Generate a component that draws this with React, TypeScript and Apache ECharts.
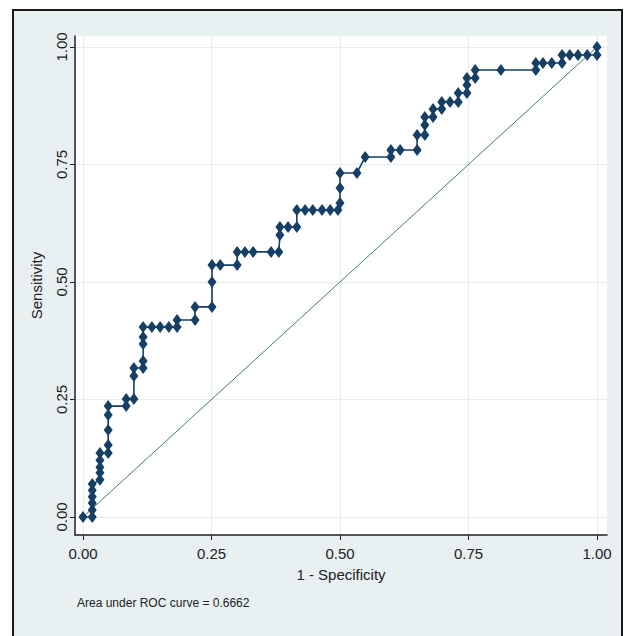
import React, { useEffect, useRef } from "react";
import * as echarts from "echarts";

// 1 - Specificity and Sensitivity for each cut point of the ROC curve
const fpr = [
  0, 0.018, 0.018, 0.018, 0.018, 0.018, 0.018, 0.033, 0.033, 0.033, 0.033, 0.033,
  0.049, 0.049, 0.049, 0.049, 0.049, 0.084, 0.084, 0.099, 0.099, 0.099,
  0.117, 0.117, 0.117, 0.117, 0.117, 0.134, 0.150, 0.167, 0.183, 0.183,
  0.218, 0.218, 0.251, 0.251, 0.251, 0.267, 0.300, 0.300, 0.315, 0.331, 0.366, 0.381,
  0.383, 0.383, 0.399, 0.416, 0.416, 0.432, 0.447, 0.465, 0.481, 0.496,
  0.500, 0.500, 0.500, 0.533, 0.549, 0.599, 0.599, 0.617, 0.650, 0.650,
  0.665, 0.665, 0.665, 0.681, 0.681, 0.698, 0.698, 0.714, 0.730, 0.730,
  0.747, 0.747, 0.747, 0.763, 0.763, 0.813, 0.881, 0.881, 0.895, 0.912, 0.932,
  0.932, 0.947, 0.963, 0.981, 1.0, 1.0,
];
const sensitivity = [
  0, 0, 0.015, 0.030, 0.043, 0.057, 0.070, 0.079, 0.094, 0.106, 0.121, 0.136,
  0.136, 0.153, 0.185, 0.217, 0.236, 0.236, 0.251, 0.251, 0.300, 0.317,
  0.317, 0.332, 0.368, 0.383, 0.404, 0.404, 0.404, 0.404, 0.404, 0.419,
  0.419, 0.447, 0.447, 0.500, 0.536, 0.536, 0.536, 0.564, 0.564, 0.564, 0.564, 0.564,
  0.600, 0.617, 0.617, 0.617, 0.653, 0.653, 0.653, 0.653, 0.653, 0.653,
  0.668, 0.700, 0.732, 0.732, 0.766, 0.766, 0.781, 0.781, 0.781, 0.813,
  0.813, 0.834, 0.851, 0.851, 0.868, 0.868, 0.883, 0.883, 0.883, 0.902,
  0.902, 0.919, 0.934, 0.934, 0.951, 0.951, 0.951, 0.966, 0.966, 0.966, 0.966,
  0.983, 0.983, 0.983, 0.983, 0.983, 1.0,
];
const tickValues = [0, 0.25, 0.5, 0.75, 1];
const referenceLine = [
  [0, 0],
  [1, 1],
];
const xTitle = "1 - Specificity";
const yTitle = "Sensitivity";
const aucText = "Area under ROC curve = 0.6662";

export default function App() {
  const ref = useRef<HTMLDivElement>(null);
  useEffect(() => {
    if (!ref.current) return;
    const chart = echarts.init(ref.current, null, { renderer: "svg" });
    const navy = "#163f66";
    const gridColor = "#e4edf0";
    const font = "Liberation Sans";
    chart.setOption({
      animation: false,
      backgroundColor: "#ffffff",
      graphic: [
        {
          type: "rect",
          z: -10,
          shape: { x: 13, y: 10, width: 609, height: 640 },
          style: { fill: "#e8f0f2", stroke: "#1a1a1a", lineWidth: 2 },
        },
        {
          type: "text",
          left: 77,
          top: 597,
          style: { text: aucText, fontFamily: font, fontSize: 12, fill: "#222" },
        },
      ],
      grid: {
        left: 75,
        right: 17,
        top: 36,
        bottom: 101,
        show: true,
        backgroundColor: "#ffffff",
        borderWidth: 0,
      },
      xAxis: {
        type: "value",
        min: -8 / 514,
        max: 1 + 10 / 514,
        name: xTitle,
        nameLocation: "middle",
        nameGap: 32,
        nameTextStyle: { fontFamily: font, fontSize: 15, color: "#222" },
        axisLine: { show: true, onZero: false, lineStyle: { color: "#222", width: 1.5 } },
        axisTick: { show: true, length: 5, customValues: tickValues, lineStyle: { color: "#222" } },
        axisLabel: {
          customValues: tickValues,
          margin: 11,
          fontFamily: font,
          fontSize: 15,
          color: "#222",
          formatter: (v: number) => v.toFixed(2),
        },
        splitLine: { show: false },
      },
      yAxis: {
        type: "value",
        min: -18 / 470,
        max: 1 + 11 / 470,
        name: yTitle,
        nameLocation: "middle",
        nameGap: 31,
        nameTextStyle: { fontFamily: font, fontSize: 15, color: "#222" },
        axisLine: { show: true, onZero: false, lineStyle: { color: "#222", width: 1.5 } },
        axisTick: { show: true, length: 5, customValues: tickValues, lineStyle: { color: "#222" } },
        axisLabel: {
          customValues: tickValues,
          rotate: 90,
          margin: 6,
          fontFamily: font,
          fontSize: 15,
          color: "#222",
          formatter: (v: number) => v.toFixed(2),
        },
        splitLine: { show: false },
      },
      series: [
        {
          type: "line",
          data: referenceLine,
          symbol: "none",
          silent: true,
          z: 1,
          lineStyle: { color: "#3f7f6c", width: 1 },
          markLine: {
            silent: true,
            symbol: "none",
            label: { show: false },
            lineStyle: { color: gridColor, width: 1.2, type: "solid" },
            data: [
              ...tickValues.map((v) => ({ xAxis: v })),
              ...tickValues.map((v) => ({ yAxis: v })),
            ],
            z: 0,
          },
        },
        {
          type: "line",
          data: fpr.map((x, i) => [x, sensitivity[i]]),
          symbol: "diamond",
          symbolSize: [9, 12],
          showAllSymbol: true,
          z: 3,
          itemStyle: { color: navy },
          lineStyle: { color: navy, width: 1.6 },
        },
      ],
    });
    return () => chart.dispose();
  }, []);
  return (
    <div
      ref={ref}
      style={{ position: "fixed", left: 0, top: 0, width: 624, height: 636 }}
    />
  );
}
